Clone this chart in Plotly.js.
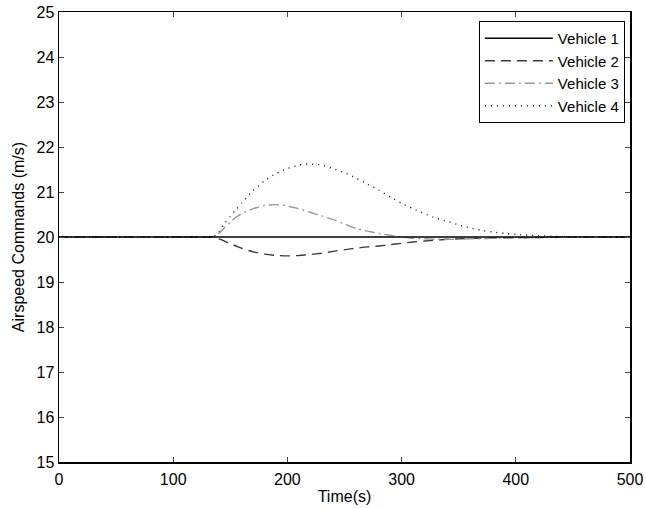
<!DOCTYPE html>
<html>
<head>
<meta charset="utf-8">
<script src="https://cdn.plot.ly/plotly-3.0.1.min.js"></script>
<style>html,body{margin:0;padding:0;background:#fff;}</style>
</head>
<body>
<div id="chart" style="width:646px;height:509px;"></div>
<script>
const time = [0, 130, 135, 140, 145, 150, 155, 160, 170, 180, 190, 200, 210, 220, 230, 240, 250, 260, 270, 280, 290, 300, 310, 320, 330, 340, 350, 360, 370, 380, 390, 400, 420, 440, 460, 480, 500];
const vehicle1 = time.map(() => 20);
const vehicle2 = [20, 20, 20, 19.96, 19.91, 19.85, 19.8, 19.75, 19.67, 19.62, 19.59, 19.58, 19.59, 19.61, 19.64, 19.68, 19.72, 19.75, 19.78, 19.8, 19.83, 19.86, 19.89, 19.91, 19.93, 19.95, 19.96, 19.97, 19.97, 19.98, 19.98, 19.99, 19.99, 20, 20, 20, 20];
const vehicle3 = [20, 20, 20, 20.08, 20.21, 20.33, 20.44, 20.52, 20.63, 20.7, 20.72, 20.69, 20.63, 20.55, 20.47, 20.39, 20.29, 20.19, 20.13, 20.08, 20.04, 20.0, 19.97, 19.96, 19.95, 19.95, 19.95, 19.96, 19.96, 19.97, 19.98, 19.98, 19.99, 20, 20, 20, 20];
const vehicle4 = [20, 20, 20, 20.12, 20.3, 20.46, 20.61, 20.76, 21.03, 21.25, 21.41, 21.52, 21.6, 21.62, 21.6, 21.52, 21.43, 21.31, 21.18, 21.04, 20.89, 20.75, 20.63, 20.52, 20.42, 20.35, 20.27, 20.2, 20.15, 20.11, 20.08, 20.06, 20.03, 20.01, 20, 20, 20];
const names = ['Vehicle 1', 'Vehicle 2', 'Vehicle 3', 'Vehicle 4'];
const xTicks = [0, 100, 200, 300, 400, 500];
const yTicks = [15, 16, 17, 18, 19, 20, 21, 22, 23, 24, 25];

const FONT = 'Liberation Sans, Arial, Helvetica, sans-serif';
const styles = [
  {color: '#000000', dash: 'solid', width: 1.3},
  {color: '#3a3a3a', dash: '10px,6px', width: 1.4},
  {color: '#999999', dash: '10px,4px,2px,4px', width: 1.4},
  {color: '#111111', dash: '1px,5px', width: 1.4}
];
const series = [vehicle1, vehicle2, vehicle3, vehicle4];
const traces = series.map((ys, i) => ({
  x: time, y: ys, name: names[i], type: 'scatter', mode: 'lines',
  legendrank: i + 1,
  line: Object.assign({shape: 'spline', smoothing: 0.6}, styles[i])
}));
const order = [1, 2, 3, 0].map(i => traces[i]);

const axisCommon = {
  showgrid: false, zeroline: false, showline: true, linecolor: '#000', linewidth: 1.5,
  mirror: 'ticks', ticks: 'inside', ticklen: 5, tickcolor: '#444', tickwidth: 1,
  tickfont: {family: FONT, size: 16, color: '#000'}
};
const layout = {
  width: 646, height: 509,
  margin: {l: 59, r: 16, t: 12, b: 47},
  paper_bgcolor: '#fff', plot_bgcolor: '#fff',
  showlegend: true,
  legend: {
    x: 0.991, y: 0.98, xanchor: 'right', yanchor: 'top',
    bgcolor: '#fff', bordercolor: '#000', borderwidth: 1,
    font: {family: FONT, size: 15, color: '#000'},
    traceorder: 'normal', tracegroupgap: 0, itemwidth: 68
  },
  xaxis: Object.assign({}, axisCommon, {
    range: [0, 500], tickvals: xTicks, ticktext: xTicks.map(String),
    ticklabelstandoff: 2,
    title: {text: 'Time(s)', font: {family: FONT, size: 16, color: '#000'}, standoff: 4}
  }),
  yaxis: Object.assign({}, axisCommon, {
    range: [15, 25], tickvals: yTicks, ticktext: yTicks.map(String),
    title: {text: 'Airspeed Commands (m/s)', font: {family: FONT, size: 16, color: '#000'}, standoff: 8}
  })
};
Plotly.newPlot('chart', order, layout, {displayModeBar: false, staticPlot: true});
</script>
</body>
</html>
